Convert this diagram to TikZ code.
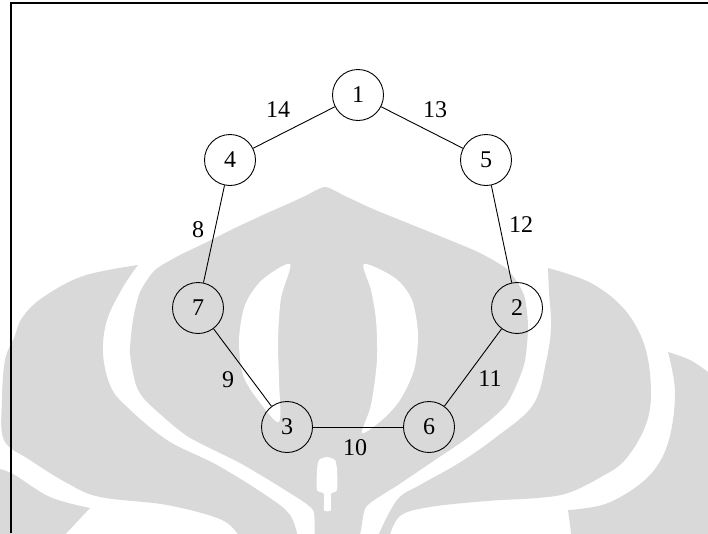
\documentclass[tikz,border=0pt]{standalone}
\usepackage{fontspec}
\setmainfont{Liberation Serif}
\definecolor{wmgray}{RGB}{217,217,217}
\begin{document}
\begin{tikzpicture}[x=1pt,y=-1pt,
  vtx/.style={circle,draw,line width=0.9pt,minimum size=51pt,inner sep=0pt,font=\fontsize{24}{28}\selectfont},
  elab/.style={font=\fontsize{24}{28}\selectfont,inner sep=0pt},
  edge/.style={line width=0.9pt},
  frame/.style={line width=1.5pt}]
\useasboundingbox (0,0) rectangle (708,533);
% watermark
\begin{scope}
\clip (0,0) rectangle (708,533);
% central shape
\fill[wmgray] plot[smooth cycle,tension=0.4] coordinates {(325,187)(345,196)(373,209)(410,224)(447,239)(480,253)(508,270)(524,295)(528,327)(524,365)(506,405)(470,436)(432,462)(398,485)(366,507)(357,540)(317,540)(313,510)(285,490)(240,463)(187,436)(147,402)(136,385)(130,353)(133,320)(140,292)(155,270)(180,255)(205,243)(235,228)(265,214)(290,203)(305,196)};
% white crescents and stem
\fill[white] plot[smooth cycle,tension=0.5] coordinates {(290,264)(262,280)(245,305)(239,340)(243,375)(258,400)(279,422)(279,380)(278,340)(281,298)};
\fill[white] plot[smooth cycle,tension=0.5] coordinates {(364,264)(395,278)(412,300)(418,335)(414,370)(400,400)(382,420)(362,433)(371,405)(377,360)(376,320)(371,290)};
\fill[white] plot[smooth cycle,tension=0.4] coordinates {(327,457)(335,460)(337,470)(337,490)(331,494)(331,510)(324,510)(324,494)(317,490)(317,470)(319,460)};
% left petal
\fill[wmgray] plot[smooth,tension=0.6] coordinates {(138,265)(123,287)(107,320)(103,353)(110,385)(125,405)(167,440)(217,465)(267,496)(290,515)(298,538)} -- plot[smooth,tension=0.6] coordinates {(240,538)(222,520)(167,505)(100,497)(67,483)(30,460)(4,440)(2,400)(5,360)(14,338)(22,318)(42,298)(83,276)(138,265)} -- cycle;
% bottom-left piece
\fill[wmgray] plot[smooth,tension=0.6] coordinates {(-5,468)(13,474)(50,497)(90,508)} -- (60,540) -- (-5,540) -- cycle;
% right petal
\fill[wmgray] plot[smooth,tension=0.6] coordinates {(548,268)(591,283)(625,310)(645,347)(651,393)(645,427)(625,460)(601,477)(568,493)(537,498)(487,501)(430,507)(400,516)(389,538)} -- plot[smooth,tension=0.6] coordinates {(377,538)(397,500)(420,485)(459,463)(495,438)(533,405)(546,362)(551,327)(549,292)(548,268)} -- cycle;
% right outer piece
\fill[wmgray] plot[smooth,tension=0.6] coordinates {(668,352)(675,393)(668,443)(648,477)(608,503)(568,510)} -- (572,540) -- (715,540) -- (715,375) -- plot[smooth,tension=0.6] coordinates {(708,372)(690,360)(668,352)} -- cycle;
\end{scope}
% frame
\draw[frame] (708,2.8) -- (11,2.8) -- (11,533);
% vertices
\node[vtx] (n1) at (358,95) {1};
\node[vtx] (n4) at (230,160) {4};
\node[vtx] (n5) at (486,160) {5};
\node[vtx] (n7) at (198,308) {7};
\node[vtx] (n2) at (517,308) {2};
\node[vtx] (n3) at (287,427) {3};
\node[vtx] (n6) at (429,427) {6};
% edges
\draw[edge] (n1) -- (n4);
\draw[edge] (n1) -- (n5);
\draw[edge] (n4) -- (n7);
\draw[edge] (n5) -- (n2);
\draw[edge] (n7) -- (n3);
\draw[edge] (n2) -- (n6);
\draw[edge] (n3) -- (n6);
% edge labels
\node[elab] (l14) at (278,110) {14};
\node[elab] (l13) at (435,110) {13};
\node[elab] (l8) at (198,230) {8};
\node[elab] (l12) at (521,225) {12};
\node[elab] (l9) at (228,380) {9};
\node[elab] (l11) at (490,379) {11};
\node[elab] (l10) at (355,448) {10};
\end{tikzpicture}
\end{document}
